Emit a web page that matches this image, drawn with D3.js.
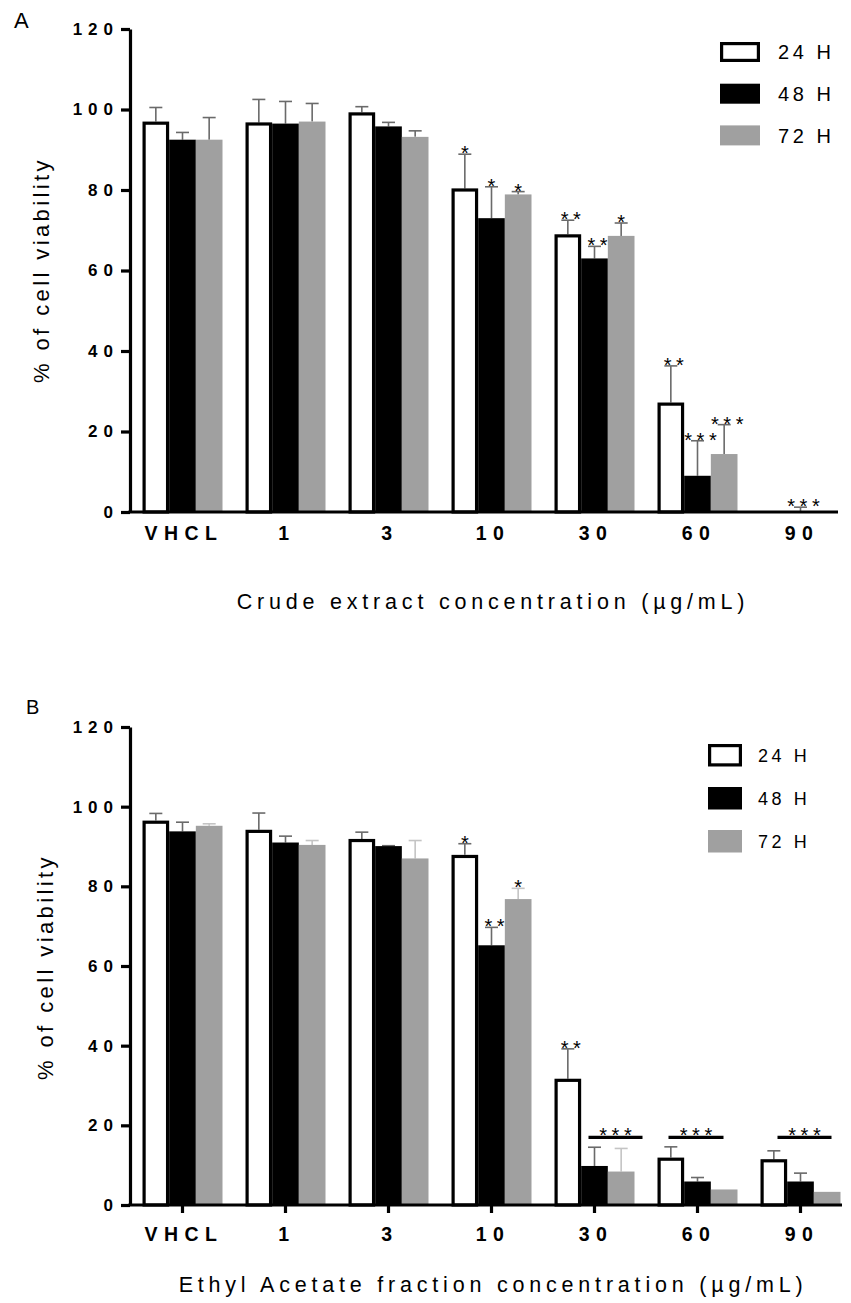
<!DOCTYPE html>
<html>
<head>
<meta charset="utf-8">
<script src="https://cdn.jsdelivr.net/npm/d3@7"></script>
<style>
  html, body { margin: 0; padding: 0; background: #fff; }
  svg { display: block; font-family: "Liberation Sans", Arial, sans-serif; }
</style>
</head>
<body>
<script>
// ---------- DATA ----------
const categories = ["VHCL", "1", "3", "10", "30", "60", "90"];
const seriesNames = ["24 H", "48 H", "72 H"];
const yTicks = [0, 20, 40, 60, 80, 100, 120];

// Panel A: crude extract
const crudeMean24 = [97.0, 96.8, 99.3, 80.4, 69.0, 27.2, 0];
const crudeMean48 = [92.5, 96.5, 95.8, 73.0, 63.0, 9.0, 0];
const crudeMean72 = [92.5, 97.0, 93.2, 78.9, 68.6, 14.4, 0];
const crudeSd24 = [3.5, 5.7, 1.4, 8.5, 3.5, 9.1, 0];
const crudeSd48 = [1.8, 5.5, 1.0, 7.8, 3.0, 8.7, 1.2];
const crudeSd72 = [5.5, 4.5, 1.5, 0.7, 3.2, 7.3, 0];
const crudeStars24 = ["", "", "", "*", "**", "**", ""];
const crudeStars48 = ["", "", "", "*", "**", "***", "***"];
const crudeStars72 = ["", "", "", "*", "*", "***", ""];

// Panel B: ethyl acetate fraction
const ethylMean24 = [96.5, 94.2, 91.9, 87.9, 31.7, 11.9, 11.5];
const ethylMean48 = [93.8, 91.0, 90.1, 65.2, 9.8, 5.9, 5.9];
const ethylMean72 = [95.2, 90.4, 87.0, 76.8, 8.4, 3.9, 3.3];
const ethylSd24 = [1.8, 4.2, 1.7, 2.8, 7.5, 2.7, 2.1];
const ethylSd48 = [2.3, 1.6, 0.1, 4.5, 4.7, 1.0, 2.1];
const ethylSd72 = [0.5, 1.1, 4.5, 2.7, 5.8, 0, 0];
const ethylStars24 = ["", "", "", "*", "**", "", ""];
const ethylStars48 = ["", "", "", "**", "", "", ""];
const ethylStars72 = ["", "", "", "*", "", "", ""];
const ethylBracketGroups = ["30", "60", "90"];
const ethylBracketLevel = 17;
const ethylBracketLabel = "***";

// ---------- DRAWING ----------
const svg = d3.select("body").append("svg").attr("width", 851).attr("height", 1303);
const fills = ["#ffffff", "#000000", "#a0a0a0"];

function drawPanel(o) {
  const g = svg.append("g");
  const y = d3.scaleLinear().domain([0, 120]).range([o.y0, o.y1]);
  const x = d3.scaleBand().domain(categories).range([131, 852]);
  const inner = d3.scaleBand().domain(seriesNames).range([-40, 40]);
  const bw = inner.bandwidth();

  const means = o.means, sds = o.sds, stars = o.stars;

  seriesNames.forEach((s, si) => {
    const data = categories.map((c, ci) => ({ c, v: means[si][ci], sd: sds[si][ci], st: stars[si][ci] }));
    const sg = g.append("g");
    const errColor = (o.lightGrayErr && si === 2) ? "#c4c4c4" : "#6a6a6a";
    data.forEach(d => {
      if (d.sd <= 0) return;
      const cx = x(d.c) + x.bandwidth() / 2 + inner(s) + bw / 2;
      sg.append("line").attr("x1", cx).attr("x2", cx)
        .attr("y1", y(d.v)).attr("y2", y(d.v + d.sd))
        .attr("stroke", errColor).attr("stroke-width", 1.6);
      sg.append("line").attr("x1", cx - 6.5).attr("x2", cx + 6.5)
        .attr("y1", y(d.v + d.sd)).attr("y2", y(d.v + d.sd))
        .attr("stroke", errColor).attr("stroke-width", 1.6);
    });
    data.forEach(d => {
      if (d.v <= 0) return;
      const bx = x(d.c) + x.bandwidth() / 2 + inner(s);
      if (si === 0) {
        sg.append("rect").attr("x", bx + 1.6).attr("y", y(d.v) + 1.6)
          .attr("width", bw - 3.2).attr("height", Math.max(0, y(0) - y(d.v) - 1.6))
          .attr("fill", "#fff").attr("stroke", "#000").attr("stroke-width", 3.2);
      } else {
        sg.append("rect").attr("x", bx).attr("y", y(d.v))
          .attr("width", bw).attr("height", y(0) - y(d.v))
          .attr("fill", fills[si]);
      }
    });
    data.forEach(d => {
      if (!d.st) return;
      const cx = x(d.c) + x.bandwidth() / 2 + inner(s) + bw / 2 + (d.st.length > 1 ? 3 : 0);
      const top = y(d.v + d.sd);
      sg.append("text").attr("x", cx + 2.3).attr("y", top + 6)
        .attr("text-anchor", "middle").attr("font-size", 20)
        .attr("letter-spacing", 4.6).attr("fill", "#000").text(d.st);
    });
  });

  if (o.brackets) {
    const offs = [[-6, 48], [-29, 26], [-23, 31]];
    o.brackets.groups.forEach((c, i) => {
      const cx = x(c) + x.bandwidth() / 2;
      const yy = y(o.brackets.level);
      g.append("line").attr("x1", cx + offs[i][0]).attr("x2", cx + offs[i][1])
        .attr("y1", yy).attr("y2", yy).attr("stroke", "#000").attr("stroke-width", 3.2);
      g.append("text").attr("x", cx + (offs[i][0] + offs[i][1]) / 2 + 2.3).attr("y", yy + 5)
        .attr("text-anchor", "middle").attr("font-size", 20)
        .attr("letter-spacing", 4.6).text(o.brackets.label);
    });
  }

  // y axis
  const ya = g.append("g").attr("transform", "translate(130,0)")
    .call(d3.axisLeft(y).tickValues(yTicks).tickSize(9).tickSizeOuter(0).tickPadding(2));
  ya.select(".domain").attr("stroke-width", 3.2).attr("stroke", "#000");
  ya.selectAll(".tick line").attr("stroke-width", 3.2).attr("stroke", "#000");
  ya.selectAll(".tick text").attr("font-size", 17).attr("font-weight", "bold")
    .attr("letter-spacing", 6).attr("font-family", "Liberation Sans, Arial, sans-serif")
    .attr("fill", "#000");

  // x axis
  const xa = g.append("g").attr("transform", `translate(0,${o.y0})`)
    .call(d3.axisBottom(x).tickSize(o.xTicks ? 8 : 0).tickSizeOuter(0).tickPadding(14));
  xa.select(".domain").remove();
  xa.selectAll(".tick line").attr("stroke-width", 3.2).attr("stroke", "#000");
  xa.selectAll(".tick text").attr("font-size", 19.5).attr("font-weight", "bold")
    .attr("letter-spacing", 6.5).attr("dx", 1.5).attr("font-family", "Liberation Sans, Arial, sans-serif")
    .attr("fill", "#000");
  g.append("line").attr("x1", 128.4).attr("x2", o.xEnd).attr("y1", o.y0).attr("y2", o.y0)
    .attr("stroke", "#000").attr("stroke-width", 3.2);

  // axis titles
  g.append("text").attr("transform", `translate(${o.yTitleX},${o.yTitleY}) rotate(-90)`)
    .attr("text-anchor", "middle").attr("font-size", 22).attr("letter-spacing", 3.4)
    .text("% of cell viability");
  g.append("text").attr("x", o.xTitleX).attr("y", o.xTitleY)
    .attr("text-anchor", "middle").attr("font-size", 21.5).attr("letter-spacing", 4.8)
    .text(o.xTitle);

  // panel label
  g.append("text").attr("x", o.labelX).attr("y", o.labelY).attr("font-size", o.labelFs).text(o.label);

  // legend
  seriesNames.forEach((s, si) => {
    const ly = o.leg.y + si * o.leg.step;
    if (si === 0) {
      g.append("rect").attr("x", o.leg.x + 1.6).attr("y", ly + 1.6)
        .attr("width", o.leg.w - 3.2).attr("height", o.leg.h - 3.2)
        .attr("fill", "#fff").attr("stroke", "#000").attr("stroke-width", 3.2);
    } else {
      g.append("rect").attr("x", o.leg.x).attr("y", ly)
        .attr("width", o.leg.w).attr("height", o.leg.h).attr("fill", fills[si]);
    }
    g.append("text").attr("x", o.leg.tx).attr("y", ly + o.leg.h / 2)
      .attr("dy", "0.36em").attr("font-size", o.leg.fs).attr("letter-spacing", 3.6)
      .text(s);
  });
}

drawPanel({
  y0: 512, y1: 29, xEnd: 838, xTicks: false,
  means: [crudeMean24, crudeMean48, crudeMean72],
  sds: [crudeSd24, crudeSd48, crudeSd72],
  stars: [crudeStars24, crudeStars48, crudeStars72],
  lightGrayErr: false,
  yTitleX: 49, yTitleY: 270,
  xTitle: "Crude extract concentration (µg/mL)", xTitleX: 493, xTitleY: 609,
  label: "A", labelX: 14, labelY: 28, labelFs: 22,
  leg: { x: 720, y: 42, w: 40, h: 20, step: 41.7, tx: 778, fs: 20 }
});

drawPanel({
  y0: 1205, y1: 727, xEnd: 842, xTicks: true,
  means: [ethylMean24, ethylMean48, ethylMean72],
  sds: [ethylSd24, ethylSd48, ethylSd72],
  stars: [ethylStars24, ethylStars48, ethylStars72],
  lightGrayErr: true,
  brackets: { groups: ethylBracketGroups, level: ethylBracketLevel, label: ethylBracketLabel },
  yTitleX: 53, yTitleY: 967,
  xTitle: "Ethyl Acetate fraction concentration (µg/mL)", xTitleX: 493, xTitleY: 1292,
  label: "B", labelX: 26, labelY: 714, labelFs: 20,
  leg: { x: 708, y: 744, w: 34, h: 22.5, step: 43, tx: 758, fs: 18 }
});
</script>
</body>
</html>
